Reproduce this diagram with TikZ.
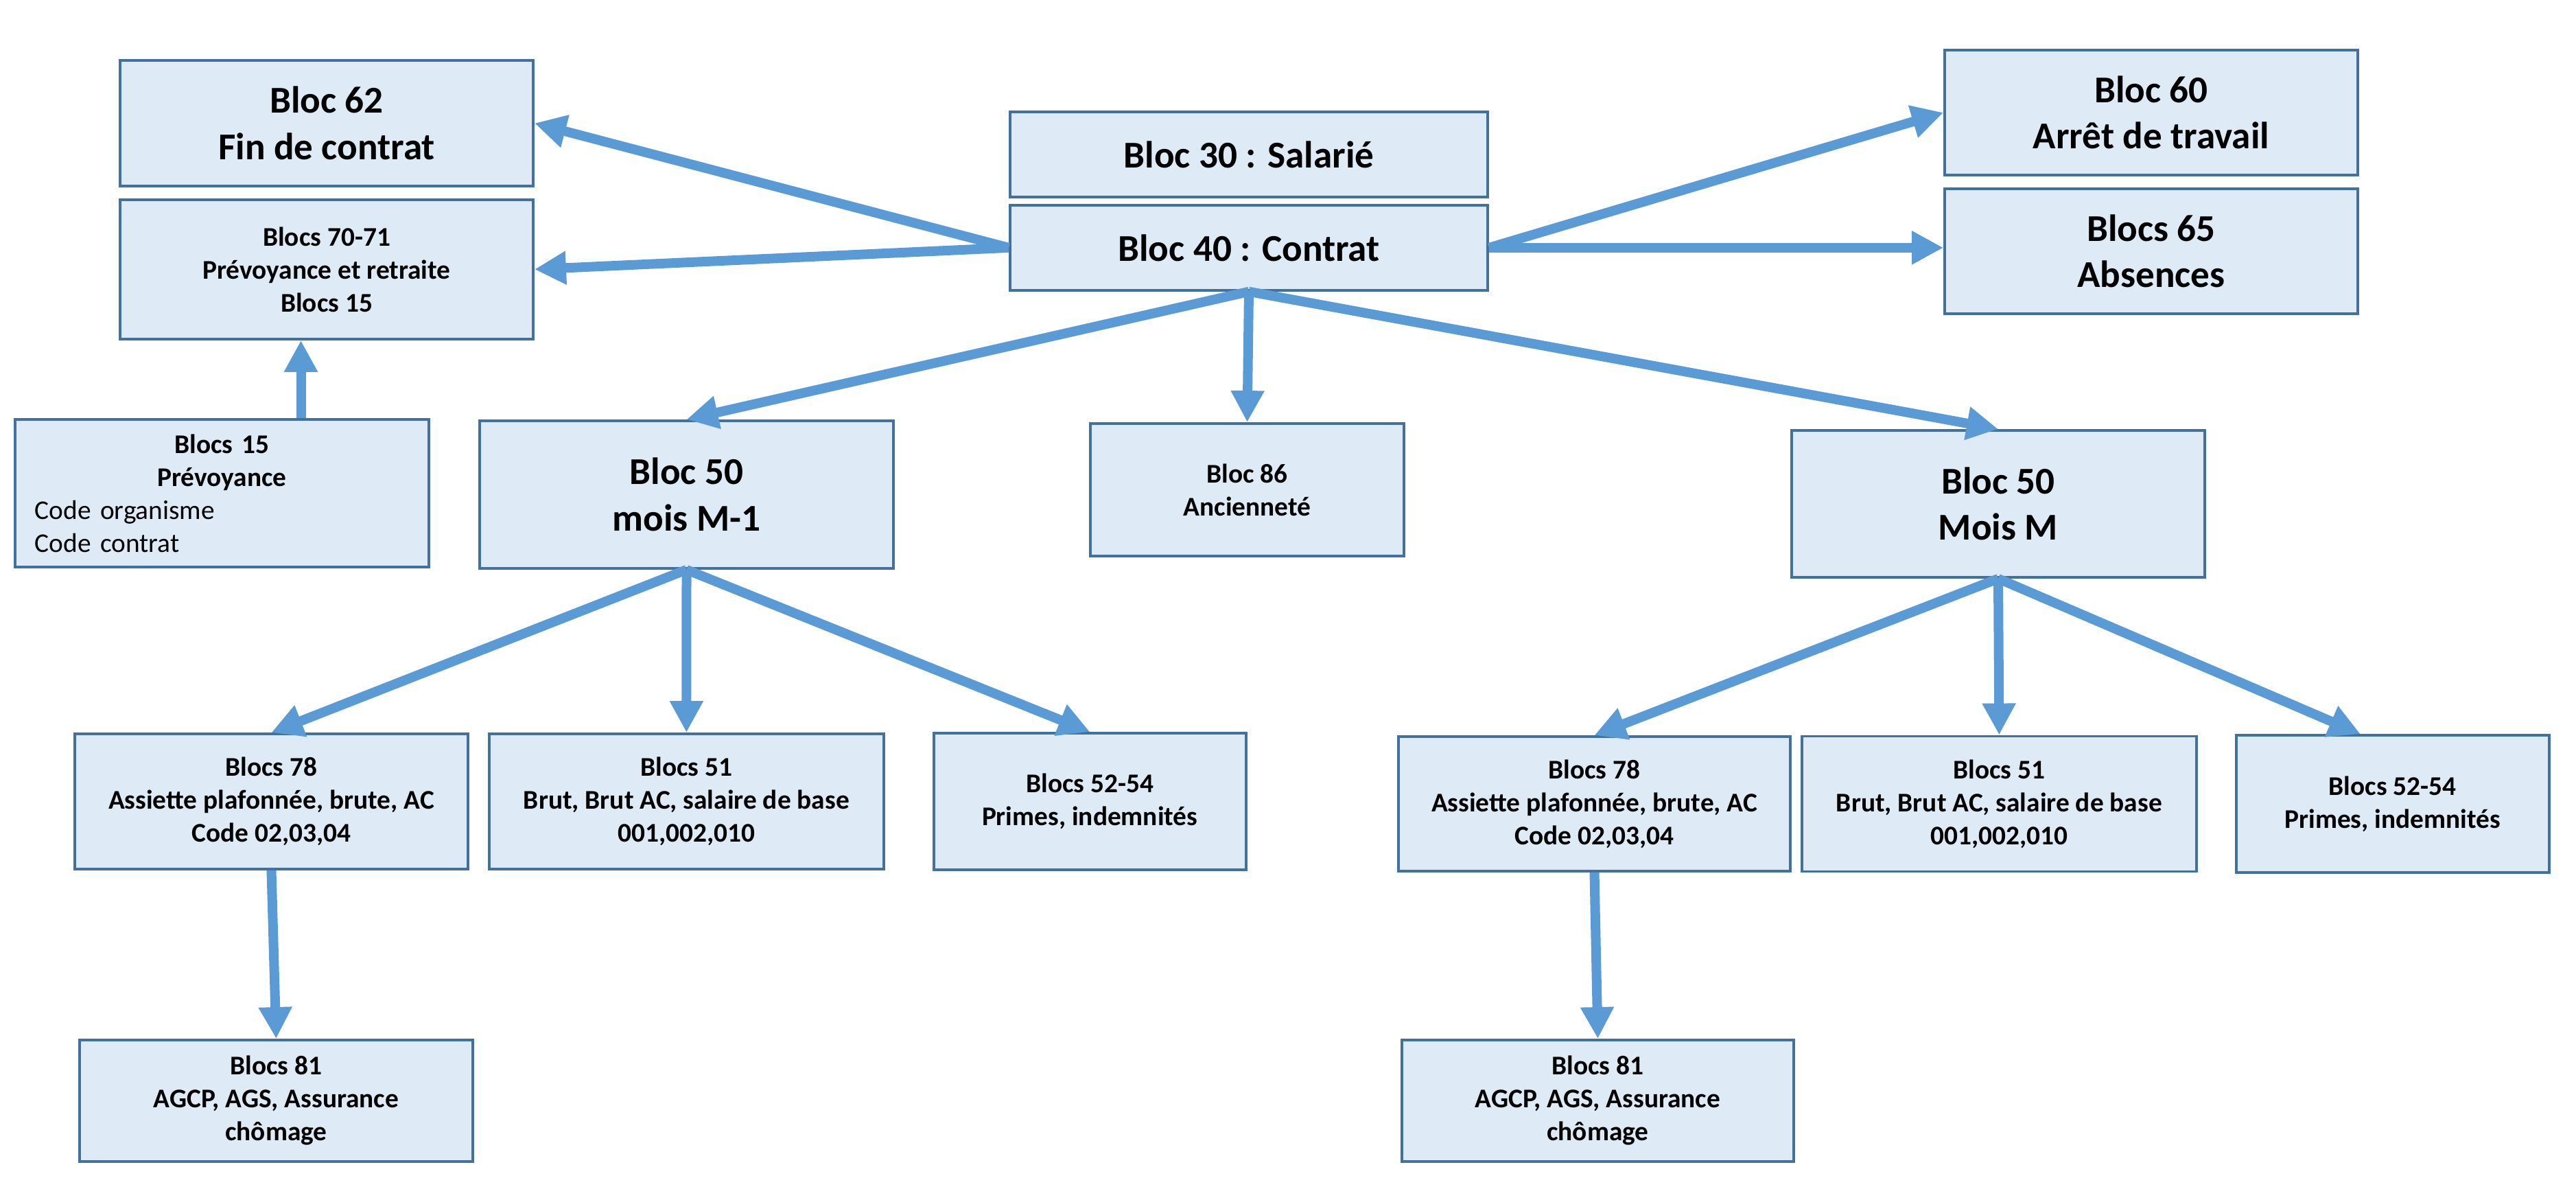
\documentclass[tikz,border=0pt]{standalone}
\usepackage{fontspec}
\setmainfont{Carlito}
\usetikzlibrary{positioning,arrows.meta}
\definecolor{boxfill}{HTML}{DEEBF7}
\definecolor{boxline}{HTML}{41719C}
\definecolor{arrowblue}{HTML}{5B9BD5}

\begin{document}
\begin{tikzpicture}[x=1mm,y=1mm,>={Triangle[length=4.6mm,width=4.6mm]},box/.style={draw=boxline,fill=boxfill,line width=1.1pt,align=center,inner sep=0pt},big/.style={box,font=\fontsize{15.7}{19.2}\selectfont\bfseries},small/.style={box,font=\fontsize{11.2}{13.66}\selectfont\bfseries},arr/.style={->,draw=arrowblue,line width=1.4mm}]
\useasboundingbox (0,0) rectangle (375.4,-171.6);
\node[big,minimum width=60.2mm,minimum height=18.3mm] (b62) at (47.6,-17.95) {Bloc 62\\Fin de contrat};
\node[small,minimum width=60.2mm,minimum height=20.3mm,below=1.6mm of b62] (b7071) {Blocs 70-71\\Prévoyance et retraite\\Blocs 15};
\node[small,minimum width=60.3mm,minimum height=21.5mm,text width=54.5mm] (b15) at (32.35,-71.85) {Blocs 15\\Prévoyance\\\makebox[54.5mm][l]{\mdseries Code organisme}\\\makebox[54.5mm][l]{\mdseries Code contrat}};
\node[big,minimum width=69.6mm,minimum height=12.4mm] (b30) at (182,-22.5) {Bloc 30 : Salarié};
\node[big,minimum width=69.6mm,minimum height=12.4mm,below=0.8mm of b30] (b40) {Bloc 40 : Contrat};
\node[big,minimum width=60.2mm,minimum height=18.2mm] (b60) at (313.5,-16.4) {Bloc 60\\Arrêt de travail};
\node[big,minimum width=60.2mm,minimum height=18.2mm,below=1.6mm of b60] (b65) {Blocs 65\\Absences};
\node[big,minimum width=60.3mm,minimum height=21.5mm] (b50a) at (100.05,-72.05) {Bloc 50\\mois M-1};
\node[small,minimum width=45.7mm,minimum height=19.3mm] (b86) at (181.75,-71.35) {Bloc 86\\Ancienneté};
\node[big,minimum width=60.2mm,minimum height=21.4mm] (b50b) at (291.2,-73.4) {Bloc 50\\Mois M};
\node[small,minimum width=57.3mm,minimum height=19.7mm] (b78a) at (39.55,-116.75) {Blocs 78\\Assiette plafonnée, brute, AC\\Code 02,03,04};
\node[small,minimum width=57.5mm,minimum height=19.7mm,right=2.7mm of b78a] (b51a) {Blocs 51\\Brut, Brut AC, salaire de base\\001,002,010};
\node[small,minimum width=45.5mm,minimum height=19.9mm,right=6.9mm of b51a] (b5254a) {Blocs 52-54\\Primes, indemnités};
\node[small,minimum width=57.3mm,minimum height=17.7mm] (b81a) at (40.25,-160.35) {Blocs 81\\AGCP, AGS, Assurance\\chômage};
\node[small,minimum width=57.1mm,minimum height=19.6mm] (b78b) at (232.35,-117.1) {Blocs 78\\Assiette plafonnée, brute, AC\\Code 02,03,04};
\node[small,minimum width=57.5mm,minimum height=19.7mm,right=1.3mm of b78b] (b51b) {Blocs 51\\Brut, Brut AC, salaire de base\\001,002,010};
\node[small,minimum width=45.6mm,minimum height=20mm,right=5.4mm of b51b] (b5254b) {Blocs 52-54\\Primes, indemnités};
\node[small,minimum width=57.1mm,minimum height=17.7mm] (b81b) at (232.85,-160.35) {Blocs 81\\AGCP, AGS, Assurance\\chômage};
\draw[arr] (b40.west) -- (b62.east); \draw[arr] (b40.west) -- (b7071.east);
\draw[arr] (b40.east) -- (b60.west); \draw[arr] (b40.east) -- (b40.east -| b65.west);
\foreach \t in {b50a,b86,b50b}{\draw[arr] (b40.south) -- (\t.north);}
\foreach \t in {b78a,b51a,b5254a}{\draw[arr] (b50a.south) -- (\t.north);}
\draw[arr] (b50b.south) -- (b78b.north); \draw[arr] (b50b.south) -- (b51b.north); \draw[arr] (b50b.south) -- ([xshift=-4.7mm]b5254b.north);
\draw[arr] (b78a.south) -- (b81a.north); \draw[arr] (b78b.south) -- (b81b.north);
\draw[arr] ([xshift=11.5mm]b15.north) -- ([xshift=11.5mm]b15.north |- b7071.south);
\end{tikzpicture}
\end{document}
